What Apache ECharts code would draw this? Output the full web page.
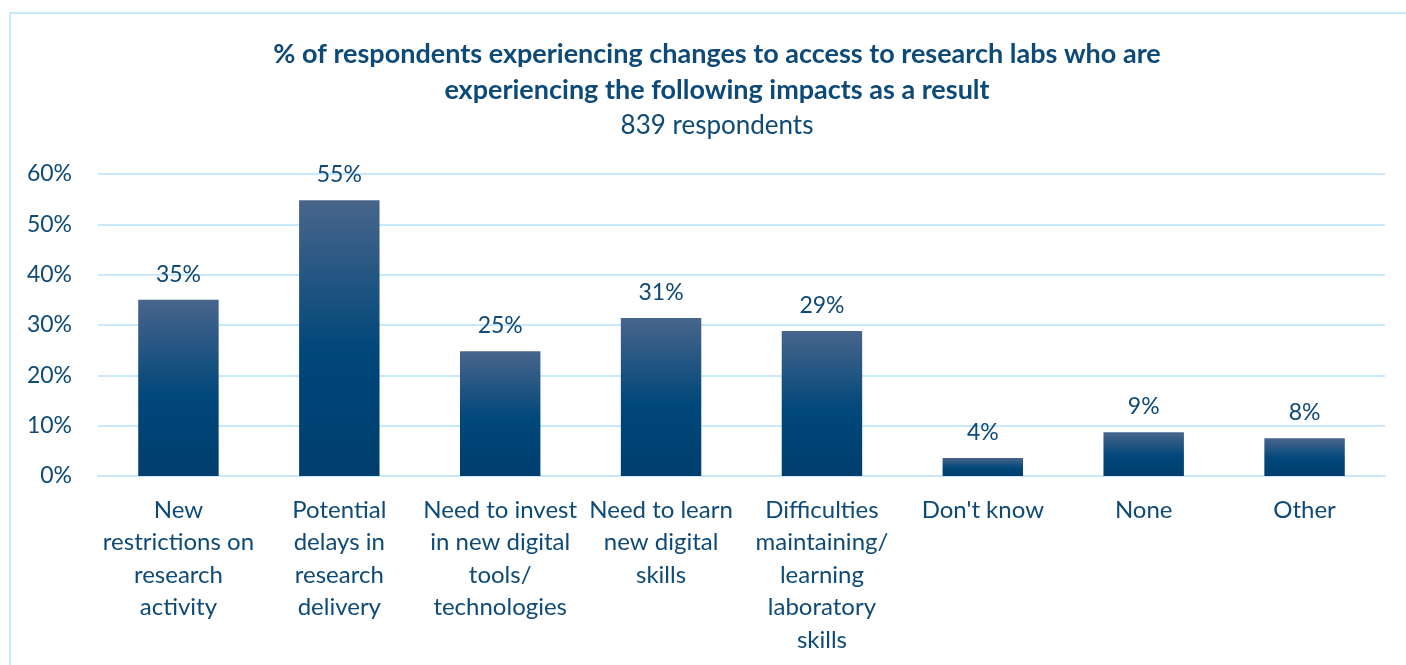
<!DOCTYPE html>
<html>
<head>
<meta charset="utf-8">
<script src="https://cdn.jsdelivr.net/npm/echarts@6/dist/echarts.min.js"></script>
<style>html,body{margin:0;padding:0;background:#fff;}#chart{width:1406px;height:665px;}</style>
</head>
<body>
<div id="chart"></div>
<script>
const categories = [
  'New\nrestrictions on\nresearch\nactivity',
  'Potential\ndelays in\nresearch\ndelivery',
  'Need to invest\nin new digital\ntools/\ntechnologies',
  'Need to learn\nnew digital\nskills',
  'Difficulties\nmaintaining/\nlearning\nlaboratory\nskills',
  "Don't know",
  'None',
  'Other'
];
const values = [35, 54.8, 24.8, 31.4, 28.8, 3.6, 8.7, 7.5];
const yTicks = { min: 0, max: 60, interval: 10 };
const titleText = '% of respondents experiencing changes to access to research labs who are\nexperiencing the following impacts as a result';
const subtitleText = '839 respondents';

const txt = '#0d4a78';
const grid = '#c8e8fb';
const font = 'Lato';
const chart = echarts.init(document.getElementById('chart'), null, { renderer: 'canvas' });
chart.setOption({
  backgroundColor: '#fff',
  animation: false,
  graphic: [{
    type: 'rect', shape: { x: 10, y: 13, width: 1500, height: 800 },
    style: { fill: 'none', stroke: grid, lineWidth: 2 }, silent: true, z: -1
  }],
  title: {
    text: titleText,
    subtext: subtitleText,
    left: 712, top: 31, textAlign: 'center',
    itemGap: 2,
    textStyle: { fontFamily: font, fontWeight: 'bold', fontSize: 27, color: txt, lineHeight: 36 },
    subtextStyle: { fontFamily: font, fontSize: 26, color: txt, lineHeight: 32 }
  },
  grid: { left: 98, right: 21, top: 174, bottom: 189, containLabel: false },
  xAxis: {
    type: 'category', data: categories,
    axisLine: { show: true, lineStyle: { color: grid, width: 2 } },
    axisTick: { show: false },
    axisLabel: { interval: 0, margin: 18, fontFamily: font, fontSize: 24, color: txt, lineHeight: 32.5, align: 'center' }
  },
  yAxis: {
    type: 'value', min: yTicks.min, max: yTicks.max, interval: yTicks.interval,
    axisLine: { show: false }, axisTick: { show: false },
    splitLine: { lineStyle: { color: grid, width: 2 } },
    axisLabel: { formatter: '{value}%', margin: 26, fontFamily: font, fontSize: 23, color: txt }
  },
  series: [{
    type: 'bar', data: values, barWidth: '50%',
    itemStyle: {
      color: new echarts.graphic.LinearGradient(0, 0, 0, 1, [
        { offset: 0, color: '#48658b' },
        { offset: 0.55, color: '#00477a' },
        { offset: 1, color: '#003e6e' }
      ])
    },
    label: {
      show: true, position: 'top', distance: 14,
      formatter: p => Math.round(p.value) + '%',
      fontFamily: font, fontSize: 23, color: txt
    }
  }]
});
</script>
</body>
</html>
